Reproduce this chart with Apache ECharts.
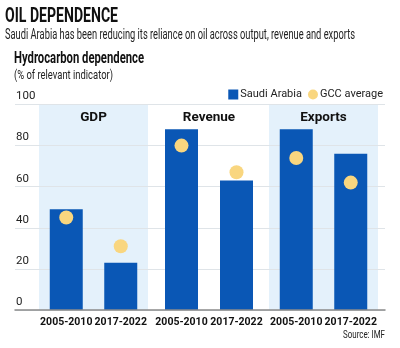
<!DOCTYPE html>
<html>
<head>
<meta charset="utf-8">
<script src="https://cdn.jsdelivr.net/npm/echarts@6/dist/echarts.min.js"></script>
<style>
  html, body { margin: 0; padding: 0; background: #fff; }
  #chart { width: 400px; height: 348px; }
</style>
</head>
<body>
<div id="chart"></div>
<script>
// Hydrocarbon dependence, % of relevant indicator
const groups = ['GDP', 'Revenue', 'Exports'];
const periods = ['2005-2010', '2017-2022'];
const saudiGdp = [49, 23];
const saudiRevenue = [88, 63];
const saudiExports = [88, 76];
const gccGdp = [45, 31];
const gccRevenue = [80, 67];
const gccExports = [74, 62];
const yTicks = [0, 20, 40, 60, 80, 100];

const saudiByGroup = [saudiGdp, saudiRevenue, saudiExports];
const gccByGroup = [gccGdp, gccRevenue, gccExports];

const BLUE = '#0a57b5';
const GOLD = '#f9d67f';
const BAND = '#e4f1fb';
const FONT = "Roboto, 'Noto Sans', sans-serif";

// horizontal squeeze so a heading fills a given width (condensed look)
const measureCtx = document.createElement('canvas').getContext('2d');
function squeeze(text, size, weight, width) {
  measureCtx.font = weight + ' ' + size + 'px ' + FONT;
  return width / measureCtx.measureText(text).width;
}
function heading(text, x, y, size, weight, width, color, alignRight) {
  const sx = squeeze(text, size, weight, width);
  return {
    type: 'text', x: alignRight ? x - width : x, y: y, scaleX: sx, scaleY: 1,
    style: { text: text, fontSize: size, fontWeight: weight, fontFamily: FONT, fill: color }
  };
}

const chart = echarts.init(document.getElementById('chart'));

const TOP = 104.5, BOTTOM = 38;
// plot panels: [left, width, shaded]
const panels = [[39, 109, true], [154, 110, false], [269, 109, true]];

const grids = [{ left: 15, right: 15, top: TOP, bottom: BOTTOM, z: 0 }];
const xAxes = [{
  gridIndex: 0, type: 'category', data: [], boundaryGap: false,
  axisLine: { show: true, lineStyle: { color: '#8a8a8a', width: 1.5 } },
  axisTick: { show: false }, axisLabel: { show: false }, z: 3
}];
const yAxes = [{
  gridIndex: 0, type: 'value', min: yTicks[0], max: yTicks[yTicks.length - 1], interval: 20,
  axisLine: { show: false }, axisTick: { show: false },
  splitLine: { lineStyle: { color: '#dfe4e8', width: 1 } },
  axisLabel: {
    inside: true, margin: 1, verticalAlign: 'bottom', padding: [0, 0, 2, 0],
    color: '#222', fontSize: 11.5, fontFamily: FONT
  },
  z: 1
}];
const series = [];

panels.forEach(([left, width, shaded], i) => {
  const gi = i + 1;
  grids.push({
    left: left, width: width, top: TOP, bottom: BOTTOM,
    show: shaded, backgroundColor: BAND, borderWidth: 0, z: 0
  });
  xAxes.push({
    gridIndex: gi, type: 'category', data: periods, position: 'bottom',
    axisLine: { show: false }, axisTick: { show: false },
    axisLabel: { interval: 0, hideOverlap: false, color: '#111', fontSize: 10.5, fontWeight: 'bold', fontFamily: FONT, margin: 7 }
  });
  xAxes.push({
    gridIndex: gi, type: 'category', data: [groups[i]], position: 'top',
    axisLine: { show: false }, axisTick: { show: false },
    axisLabel: { inside: true, margin: 6, color: '#111', fontSize: 13.5, fontWeight: 'bold', fontFamily: FONT }
  });
  yAxes.push({
    gridIndex: gi, type: 'value', min: 0, max: 100, show: false, splitLine: { show: false }
  });
  series.push({
    name: 'Saudi Arabia', type: 'bar', xAxisIndex: 2 * i + 1, yAxisIndex: gi,
    data: saudiByGroup[i], barWidth: 33, itemStyle: { color: BLUE }, z: 2, silent: true
  });
  series.push({
    name: 'GCC average', type: 'scatter', xAxisIndex: 2 * i + 1, yAxisIndex: gi,
    data: gccByGroup[i], symbolSize: 14, itemStyle: { color: GOLD, opacity: 1 }, z: 3, silent: true
  });
});

chart.setOption({
  animation: false,
  backgroundColor: '#fff',
  grid: grids,
  xAxis: xAxes,
  yAxis: yAxes,
  series: series,
  legend: {
    right: 12, top: 84, itemGap: 6, itemWidth: 10, itemHeight: 10,
    textStyle: { fontSize: 11, color: '#222', fontFamily: FONT, padding: [0, 0, 0, -3] },
    data: [{ name: 'Saudi Arabia', icon: 'rect' }, { name: 'GCC average', icon: 'circle' }],
    selectedMode: false
  },
  graphic: [
    heading('OIL DEPENDENCE', 5, 6, 21, 'bold', 113, '#111'),
    heading('Saudi Arabia has been reducing its reliance on oil across output, revenue and exports', 5, 28, 14, 'normal', 350, '#222'),
    heading('Hydrocarbon dependence', 14, 51, 16, 'bold', 130, '#111'),
    heading('(% of relevant indicator)', 14, 69, 13, 'normal', 99, '#222'),
    heading('Source: IMF', 385, 330, 11, 'normal', 42, '#222', true)
  ]
});
</script>
</body>
</html>
